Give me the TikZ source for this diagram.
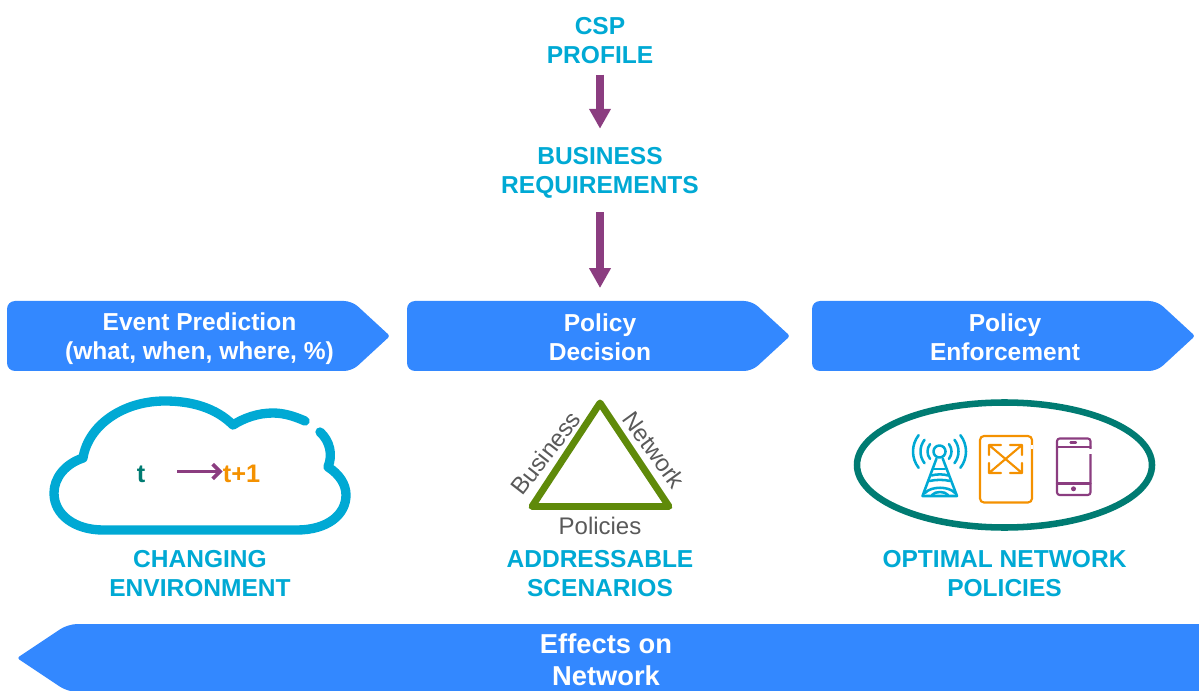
\documentclass[tikz,border=0pt]{standalone}
\usepackage{fontspec}
\setmainfont{Liberation Sans}
\usetikzlibrary{arrows.meta}
\definecolor{cyanhead}{HTML}{00A9D4}
\definecolor{barblue}{HTML}{3388FF}
\definecolor{plum}{HTML}{8B3D80}
\definecolor{tealc}{HTML}{007B72}
\definecolor{orangec}{HTML}{F49100}
\definecolor{greenc}{HTML}{5F8A0A}
\definecolor{grayc}{HTML}{595959}
\tikzset{
  heading/.style={font=\fontsize{18.4pt}{21.75pt}\selectfont\bfseries,text=cyanhead,align=center,inner sep=0pt},
  bartext/.style={font=\fontsize{18.4pt}{21.75pt}\selectfont\bfseries,text=white,align=center,inner sep=0pt},
  edgelabel/.style={font=\fontsize{18pt}{21pt}\selectfont,text=grayc,inner sep=0pt},
  bigarrow/.style={draw=plum,line width=5.3pt,-{Triangle[width=15.5pt,length=15pt]}},
  iconline/.style={line width=1.6pt,line cap=round,line join=round},
  towerline/.style={line width=1.9pt,line cap=round,line join=round,draw=cyanhead},
  xarrow/.style={iconline,draw=orangec}
}
\newcommand{\bluebar}[1]{%
  \fill[barblue,rounded corners=6pt] (#1,301) -- (#1+345,301) [rounded corners=2pt] -- (#1+383,336) [rounded corners=6pt] -- (#1+345,371) -- (#1,371) -- cycle;}
\begin{document}
\begin{tikzpicture}[x=0.75pt,y=-0.75pt]
\useasboundingbox (0,0) rectangle (1199,691);
\clip (0,0) rectangle (1199,691);

% top headings and arrows
\node[heading] (csp) at (600,40.5) {CSP\\PROFILE};
\node[heading] (biz) at (600,172.5) {BUSINESS\\REQUIREMENTS};
\draw[bigarrow,shorten <=8pt,shorten >=13.5pt] (csp.south) -- (biz.north);

% bars
\bluebar{7}
\bluebar{407}
\bluebar{812}
\node[bartext] (evt) at (199.5,338.5) {Event Prediction\\(what, when, where, \%)};
\node[bartext] (dec) at (600,337) {Policy\\Decision};
\node[bartext] (enf) at (1005,337) {Policy\\Enforcement};
\draw[bigarrow,shorten <=10.5pt,shorten >=18.9pt] (biz.south) -- (dec.north);

% cloud
\draw[cyanhead,line width=7pt,line cap=round,line join=round]
  (305,421) .. controls (296,417) and (285,413) .. (273,413)
  .. controls (258,413) and (244,418) .. (233,425)
  .. controls (216,408) and (192,401) .. (165,401)
  .. controls (122,401) and (88,426) .. (83,458)
  .. controls (65,464) and (54,478) .. (54,493)
  .. controls (54,515) and (75,530) .. (103,530)
  -- (297,530)
  .. controls (327,530) and (346,515) .. (346,495)
  .. controls (346,484) and (339,474) .. (328,467)
  .. controls (333,455) and (330,441) .. (320,432);
\node[font=\fontsize{19pt}{21pt}\selectfont\bfseries,text=tealc,inner sep=0pt] (tnow) at (141,474) {t};
\node[font=\fontsize{19pt}{21pt}\selectfont\bfseries,text=orangec,inner sep=0pt] (tnext) at (241.5,473.5) {t+1};
\draw[plum,line width=2.8pt,-{Straight Barb[width=11pt,length=5.5pt]}] (177,471.5) -- (tnext.west |- 0,471.5);

% triangle
\draw[greenc,line width=5.2pt,line join=round] (600,403) -- (669,506.5) -- (532,506.5) -- cycle;
\node[edgelabel,rotate=52] (lbiz) at (545.5,453) {Business};
\node[edgelabel,rotate=-54] (lnet) at (654,450) {Network};
\node[edgelabel] (lpol) at (600,525.5) {Policies};

% ellipse
\draw[tealc,line width=4.9pt] (1004.5,465) ellipse [x radius=147.5,y radius=62.5];

% tower
\draw[towerline] (939.5,451.5) circle [radius=6];
\foreach \r in {12,19,26.5}{
  \draw[towerline] (939.5,451.5) ++(-38:\r) arc (-38:38:\r);
  \draw[towerline] (939.5,451.5) ++(142:\r) arc (142:218:\r);
}
\draw[towerline] (936.5,458.5) -- (922.5,496) -- (957,496) -- (942.7,458.5);
\draw[towerline] (934,469) -- (945,469);
\draw[towerline] (931.5,475.5) .. controls (936,474) and (944,474) .. (948,475.5);
\draw[towerline] (929.5,481) .. controls (936,479.5) and (944,479.5) .. (950,481);
\draw[towerline] (925,493) .. controls (931,486) and (949,486) .. (955,493);
\draw[towerline] (932,495) .. controls (935,491) and (945,491) .. (948,495);

% switch box
\draw[xarrow,rounded corners=3pt] (1032,436) -- (980,436) -- (980,502.5) -- (1032,502.5) -- cycle;
\draw[white,line width=1.6pt] (1032,445) -- (1032,449);
\draw[xarrow] (989,445) -- (1022,473) (1022,445) -- (989,473)
  (989,455) -- (989,445) -- (1001,445)
  (1010,445) -- (1022,445) -- (1022,455)
  (989,463) -- (989,473) -- (1001,473)
  (1010,473) -- (1022,473) -- (1022,463);

% phone
\draw[iconline,draw=plum,rounded corners=2pt] (1057,438.5) rectangle (1090.5,495);
\draw[white,line width=1.6pt] (1090.5,449) -- (1090.5,454);
\draw[iconline,draw=plum] (1057,447) -- (1090.5,447) (1057,483.5) -- (1090.5,483.5) (1070.5,442.5) -- (1076,442.5);
\fill[plum] (1073.5,488.8) circle [radius=2.5];

% captions
\node[heading] (cap1) at (200,573.5) {CHANGING\\ENVIRONMENT};
\node[heading] (cap2) at (600,573.5) {ADDRESSABLE\\SCENARIOS};
\node[heading] (cap3) at (1004.5,573.5) {OPTIMAL NETWORK\\POLICIES};

% bottom bar
\fill[barblue,rounded corners=7pt] (1210,624) -- (68,624) [rounded corners=2pt] -- (17,658) [rounded corners=7pt] -- (68,692) -- (1210,692) -- cycle;
\node[font=\fontsize{20.5pt}{24pt}\selectfont\bfseries,text=white,align=center,inner sep=0pt] (eff) at (606,660) {Effects on\\Network};
\end{tikzpicture}
\end{document}
